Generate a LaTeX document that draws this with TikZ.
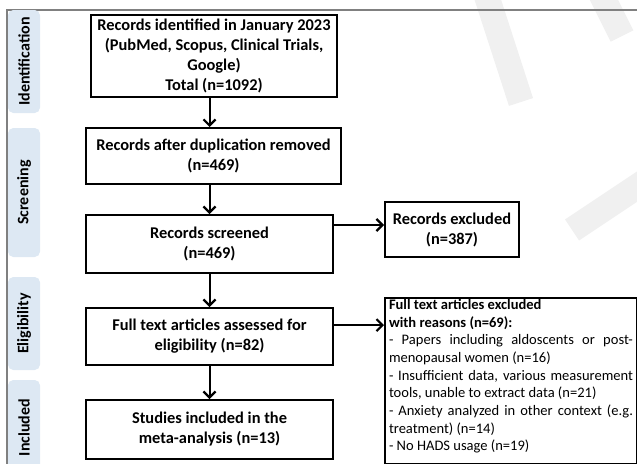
\documentclass[tikz,border=0pt]{standalone}
\usepackage{fontspec}
\setmainfont{Carlito}
\usepackage{xcolor}
\usepackage{tikz}
\usetikzlibrary{arrows.meta,positioning,calc}

\definecolor{tabblue}{RGB}{221,232,243}
\definecolor{framegray}{RGB}{128,128,128}

\tikzset{
  box/.style={draw, line width=1.5pt, align=center, inner sep=2pt,
    font=\bfseries\fontsize{12.3}{15}\selectfont},
  note/.style={draw, line width=1.5pt, align=justify, inner xsep=3pt, inner ysep=1pt,
    font=\fontsize{10.9}{13.25}\selectfont},
  tab/.style={fill=tabblue, rounded corners=4pt, rotate=90, minimum height=24pt,
    font=\bfseries\fontsize{12}{14}\selectfont},
  arr/.style={line width=1.5pt, -{Straight Barb[length=4.5pt,width=9pt,line width=1.6pt]}},
  wmark/.style={line width=19pt, black!6},
}

\begin{document}
\begin{tikzpicture}[x=0.75pt,y=-0.75pt]
    \useasboundingbox (0,0) rectangle (637,464);
    % faint watermark bands
    \draw[wmark] (484,-12) -- (521,102);
    \draw[wmark] (598,-12) -- (622,36);
    \draw[wmark] (572,230) -- (650,178);

    % frame
    \draw[framegray, line width=1.1pt] (640,10) -- (7,10) -- (7,470);

    % stage tabs
    \node[tab, minimum width=77.25pt] (tabId) at (24,61.5) {Identification};
    \node[tab, minimum width=96.75pt] (tabScr) at (24,192.5) {Screening};
    \node[tab, minimum width=69.75pt] (tabElig) at (24,323.5) {Eligibility};
    \node[tab, minimum width=71.25pt] (tabIncl) at (24,427.5) {Included};

    % main column
    \node[box, minimum width=184.5pt, minimum height=61.5pt] (recId) at (214,56)
        {Records identified in January 2023\\(PubMed, Scopus, Clinical Trials,\\Google)\\Total (n=1092)};
    \node[box, minimum width=191.25pt, minimum height=42pt] (recDup) at (213.5,156)
        {Records after duplication removed\\(n=469)};
    \node[box, minimum width=185.25pt, minimum height=43.5pt] (recScr) at (209.5,244)
        {Records screened\\(n=469)};
    \node[box, minimum width=185.25pt, minimum height=42.75pt] (fullText) at (209.5,336.5)
        {Full text articles assessed for\\eligibility (n=82)};
    \node[box, minimum width=185.25pt, minimum height=44.25pt] (studies) at (209.5,429.5)
        {Studies included in the\\meta-analysis (n=13)};

    % exclusions
    \node[box, minimum width=100.5pt, minimum height=41.25pt] (recExcl) at (452,229.5)
        {Records excluded\\(n=387)};
    \node[note, anchor=north west, text width=183pt] (fullExcl) at (384,297)
        {\textbf{Full text articles excluded}\\
         \textbf{with reasons (n=69):}\\
         - Papers including aldoscents or post-\linebreak
         menopausal women (n=16)\\
         - Insufficient data, various measurement\linebreak
         tools, unable to extract data (n=21)\\
         - Anxiety analyzed in other context (e.g.\linebreak
         treatment) (n=14)\\
         - No HADS usage (n=19)\rule[-9pt]{0pt}{9pt}};

    % arrows
    \draw[arr] (recId.south -| recScr.north) -- (recDup.north -| recScr.north);
    \draw[arr] (recDup.south -| recScr.north) -- (recScr.north);
    \draw[arr] (recScr.south) -- (fullText.north);
    \draw[arr] (fullText.south) -- (studies.north);
    \draw[arr] ([yshift=14.25pt]recScr.east) -- ([yshift=14.25pt]recScr.east -| recExcl.west);
    \draw[arr] ([yshift=8.6pt]fullText.east) -- ([yshift=8.6pt]fullText.east -| fullExcl.west);
\end{tikzpicture}
\end{document}
